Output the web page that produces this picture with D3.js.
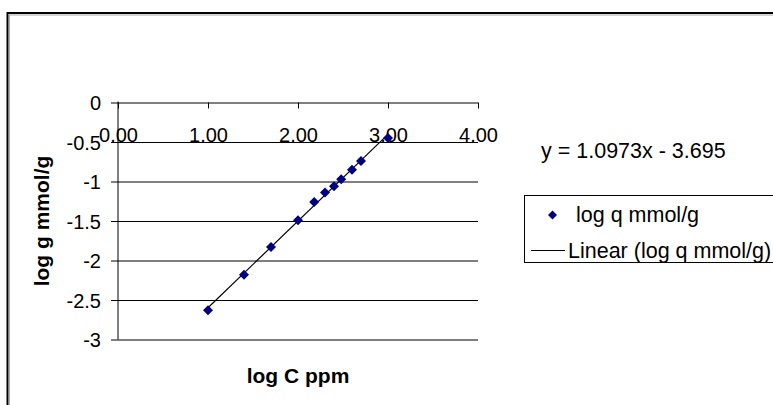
<!DOCTYPE html>
<html>
<head>
<meta charset="utf-8">
<script src="https://cdn.jsdelivr.net/npm/d3@7"></script>
<style>
  body { margin: 0; background: #fff; }
  svg { display: block; font-family: "Liberation Sans", Arial, sans-serif; }
</style>
</head>
<body>
<script>
// log C (ppm) against log q (mmol/g)
var logC = [1.00, 1.40, 1.70, 2.00, 2.18, 2.30, 2.40, 2.48, 2.60, 2.70, 3.00];
var logQ = [-2.63, -2.18, -1.83, -1.49, -1.26, -1.14, -1.06, -0.97, -0.85, -0.74, -0.45];
var xTicks = [0, 1, 2, 3, 4];
var yTicks = [0, -0.5, -1, -1.5, -2, -2.5, -3];
var slope = 1.0973, intercept = -3.695;
var seriesName = "log q mmol/g";
var trendName = "Linear (log q mmol/g)";

var W = 773, H = 405;
var plotL = 118, plotR = 478, plotT = 102.5, plotB = 339.5;

var svg = d3.select("body").append("svg")
    .attr("width", W)
    .attr("height", H);

// outer chart frame (runs off the right and bottom edges)
svg.append("rect")
    .attr("x", 7.5).attr("y", 13)
    .attr("width", 900).attr("height", 600)
    .attr("fill", "none").attr("stroke", "#000").attr("stroke-width", 2);
svg.append("rect")
    .attr("x", 9.5).attr("y", 15)
    .attr("width", 900).attr("height", 600)
    .attr("fill", "none").attr("stroke", "#aaa").attr("stroke-width", 1);

var x = d3.scaleLinear().domain([0, 4]).range([plotL, plotR]);
var y = d3.scaleLinear().domain([-3, 0]).range([plotB, plotT]);

// y axis with gridlines across the plot
var yAxis = d3.axisLeft(y)
    .tickValues(yTicks)
    .tickFormat(function (d) { return String(d); })
    .tickSizeOuter(0);

var gy = svg.append("g")
    .attr("transform", "translate(" + plotL + ",0)")
    .call(yAxis);
gy.select(".domain").remove();
gy.selectAll(".tick line")
    .attr("x1", plotR - plotL)
    .attr("x2", -7)
    .attr("stroke", "#000");
gy.selectAll(".tick text")
    .attr("x", -17)
    .attr("dy", "0.35em")
    .attr("fill", "#000")
    .attr("font-size", 20)
    .attr("font-family", "Liberation Sans, Arial, sans-serif");

svg.append("line")
    .attr("x1", plotL).attr("x2", plotL)
    .attr("y1", plotT - 1).attr("y2", plotB)
    .attr("stroke", "#000");

// x axis sits on y = 0, ticks point into the plot, labels below
var xAxis = d3.axisBottom(x)
    .tickValues(xTicks)
    .tickFormat(d3.format(".2f"))
    .tickSize(6)
    .tickSizeOuter(0);

var gx = svg.append("g")
    .attr("transform", "translate(0," + y(0) + ")")
    .call(xAxis);
gx.select(".domain").remove();
gx.selectAll(".tick line").attr("stroke", "#000");
gx.selectAll(".tick text")
    .attr("y", 25)
    .attr("fill", "#000")
    .attr("font-size", 20)
    .attr("font-family", "Liberation Sans, Arial, sans-serif");

// trend line over the data range
var x0 = d3.min(logC), x1 = d3.max(logC);
svg.append("line")
    .attr("x1", x(x0)).attr("y1", y(slope * x0 + intercept))
    .attr("x2", x(x1)).attr("y2", y(slope * x1 + intercept))
    .attr("stroke", "#000").attr("stroke-width", 1.2);

// points
var diamond = d3.symbol().type(d3.symbolSquare).size(50);
svg.append("g").selectAll("path")
    .data(logC)
    .join("path")
    .attr("d", diamond)
    .attr("transform", function (d, i) {
        return "translate(" + x(d) + "," + y(logQ[i]) + ") rotate(45)";
    })
    .attr("fill", "#000080");

// axis titles
svg.append("text")
    .attr("x", (plotL + plotR) / 2)
    .attr("y", 383)
    .attr("text-anchor", "middle")
    .attr("font-size", 21)
    .attr("font-weight", "bold")
    .text("log C ppm");

svg.append("text")
    .attr("transform", "translate(49," + (plotT + plotB) / 2 + ") rotate(-90)")
    .attr("text-anchor", "middle")
    .attr("font-size", 21)
    .attr("font-weight", "bold")
    .text("log g mmol/g");

// trendline equation
svg.append("text")
    .attr("x", 541)
    .attr("y", 158)
    .attr("font-size", 21.5)
    .text("y = " + slope + "x - " + Math.abs(intercept));

// legend
var lg = svg.append("g");
lg.append("rect")
    .attr("x", 524.5).attr("y", 195.5)
    .attr("width", 300).attr("height", 67)
    .attr("fill", "#fff").attr("stroke", "#000");
lg.append("path")
    .attr("d", d3.symbol().type(d3.symbolSquare).size(40))
    .attr("transform", "translate(552.5,215) rotate(45)")
    .attr("fill", "#000080");
lg.append("text")
    .attr("x", 576).attr("y", 222)
    .attr("font-size", 21.5)
    .text(seriesName);
lg.append("line")
    .attr("x1", 531).attr("x2", 565)
    .attr("y1", 250.5).attr("y2", 250.5)
    .attr("stroke", "#000").attr("stroke-width", 1.2);
lg.append("text")
    .attr("x", 568).attr("y", 258)
    .attr("font-size", 21.5)
    .text(trendName);
</script>
</body>
</html>
